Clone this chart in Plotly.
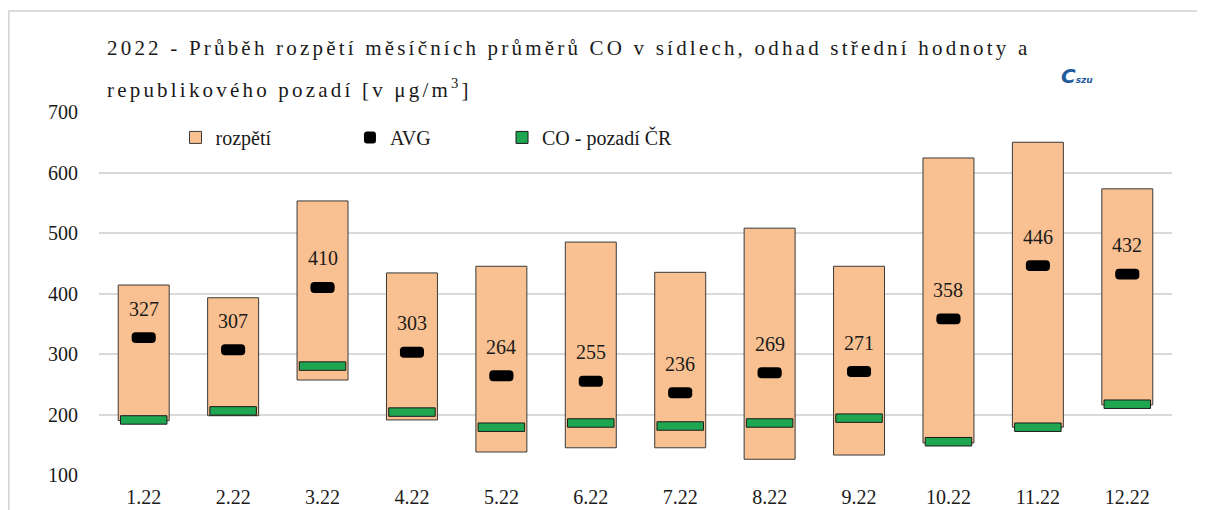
import plotly.graph_objects as go

# ── DATA ──────────────────────────────────────────────
months     = ["1.22", "2.22", "3.22", "4.22", "5.22", "6.22",
              "7.22", "8.22", "9.22", "10.22", "11.22", "12.22"]
range_min  = [190, 198, 257, 191, 138, 145, 145, 126, 133, 153, 179, 216]
range_max  = [414, 393, 553, 434, 445, 485, 435, 508, 445, 624, 650, 573]
avg        = [327, 307, 410, 303, 264, 255, 236, 269, 271, 358, 446, 432]
background = [191, 206, 280, 204, 179, 186, 181, 186, 194, 155, 179, 217]
y_ticks    = [100, 200, 300, 400, 500, 600, 700]

# ── STYLE ─────────────────────────────────────────────
SERIF   = "Liberation Serif"
TXT     = "#1a1a1a"
PEACH   = "#f9c191"
GREEN   = "#1fa650"
AVG_H   = 9      # half height of the AVG pill (units)
BG_H    = 7      # half height of the background dash (units)

fig = go.Figure()

# range bars
fig.add_trace(go.Bar(
    x=months, y=[hi - lo for lo, hi in zip(range_min, range_max)],
    base=range_min, width=0.57, name="rozpětí", legend="legend",
    marker=dict(color=PEACH, line=dict(color="#3a3a3a", width=1)),
    hoverinfo="skip"))

# CO background
fig.add_trace(go.Bar(
    x=months, y=[2 * BG_H] * len(months),
    base=[b - BG_H for b in background], width=0.52,
    name="CO - pozadí ČR", legend="legend3",
    marker=dict(color=GREEN, line=dict(color="#1a1a1a", width=1)),
    hoverinfo="skip"))

# AVG pills: two overlapping halves so both ends get rounded
fig.add_trace(go.Bar(
    x=months, y=[1.5 * AVG_H] * len(months),
    base=[a - 0.5 * AVG_H for a in avg], width=0.27,
    name="AVG", legend="legend2",
    marker=dict(color="black", cornerradius=5, line=dict(width=0)),
    hoverinfo="skip"))
fig.add_trace(go.Bar(
    x=months, y=[-1.5 * AVG_H] * len(months),
    base=[a + 0.5 * AVG_H for a in avg], width=0.27, showlegend=False,
    marker=dict(color="black", cornerradius=5, line=dict(width=0)),
    hoverinfo="skip"))

# AVG labels (x as category index, "1.22" would be read as a number)
for i, a in enumerate(avg):
    fig.add_annotation(x=i, y=a, text=str(a), showarrow=False, yshift=29,
                       font=dict(family=SERIF, size=20, color=TXT))

# title (two lines, loose spacing as in the source)
LS = "<span style='letter-spacing:3.2px'>%s</span>"
fig.add_annotation(
    xref="paper", yref="paper", x=0.006, y=1, yshift=64, xanchor="left",
    yanchor="middle", showarrow=False,
    text=LS % "2022 - Průběh rozpětí měsíčních průměrů CO v sídlech, odhad střední hodnoty a",
    font=dict(family=SERIF, size=21, color=TXT))
fig.add_annotation(
    xref="paper", yref="paper", x=0.006, y=1, yshift=24, xanchor="left",
    yanchor="middle", showarrow=False,
    text=LS % "republikového pozadí [v μg/m<sup>3</sup>]",
    font=dict(family=SERIF, size=21, color=TXT))

# SZU logo (text stand-in)
fig.add_annotation(
    xref="paper", yref="paper", x=0.911, y=1, yshift=36, xanchor="center",
    yanchor="middle", showarrow=False,
    text="<b><i>Ϲ</i></b><b><i><span style='font-size:9px'>szu</span></i></b>",
    font=dict(family="DejaVu Sans", size=20, color="#1f5c9e"))

# outer frame (left and top edges visible)
fig.add_shape(type="rect", xref="paper", yref="paper",
              x0=-0.084, x1=1.1, y0=-0.3, y1=1.278,
              line=dict(color="#d0d0d0", width=1.5), layer="below")

# one legend per entry so each can sit where the source has it
def leg(x):
    return dict(orientation="h", x=x, y=0.93, xanchor="left",
                yanchor="middle", bgcolor="rgba(0,0,0,0)",
                font=dict(family=SERIF, size=20, color=TXT))

# page body adds an 8 px offset, so the figure is 8 px smaller each way
fig.update_layout(
    width=1197, height=502,
    margin=dict(l=91, r=33, t=104, b=35),
    barmode="overlay",
    paper_bgcolor="white", plot_bgcolor="white",
    font=dict(family=SERIF, size=20, color=TXT),
    showlegend=True,
    legend=leg(0.0713), legend2=leg(0.2339), legend3=leg(0.3756),
    xaxis=dict(type="category", showgrid=False, showline=False,
               automargin=False,
               ticks="outside", ticklen=4, tickcolor="rgba(0,0,0,0)",
               tickfont=dict(family=SERIF, size=20, color=TXT)),
    yaxis=dict(range=[100, 700], tickvals=y_ticks, showgrid=True,
               gridcolor="#d9d9d9", gridwidth=1.5, zeroline=False,
               showline=False, automargin=False,
               ticks="outside", ticklen=16,
               tickcolor="rgba(0,0,0,0)",
               tickfont=dict(family=SERIF, size=20, color=TXT)),
)

fig.write_html("out.html")
